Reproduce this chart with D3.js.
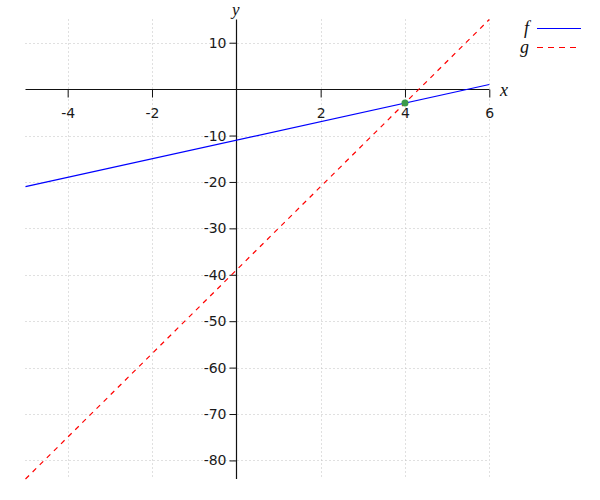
<!DOCTYPE html>
<html><head><meta charset="utf-8">
<script src="https://cdn.jsdelivr.net/npm/d3@7"></script>
<style>body{margin:0;background:#fff}</style>
</head><body>
<svg id="c" width="600" height="500"></svg>
<script>
const xDomain = [-5, 6];
const yDomain = [-84, 15];
const xTicks = [-4, -2, 2, 4, 6];
const yTicks = [10, -10, -20, -30, -40, -50, -60, -70, -80];
const fX = [-5, 6];
const fY = [-21, 1];
const gX = [-5, 6];
const gY = [-84, 15];
const pointX = [4];
const pointY = [-3];
const seriesNames = ["f", "g"];
const seriesColors = ["#0000ff", "#ff0000"];

const svg = d3.select("#c");
const x = d3.scaleLinear().domain(xDomain).range([25.5, 489.3]);
const y = d3.scaleLinear().domain(yDomain).range([479, 19.5]);

// grid
const grid = svg.append("g").attr("stroke", "#c0c0c0").attr("stroke-width", 1).attr("stroke-dasharray", "1,3");
grid.selectAll(".vg").data(xTicks).join("line")
  .attr("x1", d => Math.round(x(d)) + 0.5).attr("x2", d => Math.round(x(d)) + 0.5)
  .attr("y1", y(yDomain[1])).attr("y2", y(yDomain[0]));
grid.selectAll(".hg").data(yTicks).join("line")
  .attr("y1", d => Math.round(y(d)) + 0.5).attr("y2", d => Math.round(y(d)) + 0.5)
  .attr("x1", x(xDomain[0])).attr("x2", x(xDomain[1]));

const fmt = d => String(d);
// x axis
const xAxis = d3.axisBottom(x).tickValues(xTicks).tickSize(8).tickPadding(11).tickFormat(fmt);
const gx = svg.append("g").attr("transform", `translate(0,${Math.round(y(0)) + 0.5})`).call(xAxis);
const yAxis = d3.axisLeft(y).tickValues(yTicks).tickSize(7).tickPadding(3).tickFormat(fmt);
const gy = svg.append("g").attr("transform", `translate(${Math.round(x(0)) + 0.5},0)`).call(yAxis);
[gx, gy].forEach(g => {
  g.attr("font-size", null).attr("font-family", null);
  g.select(".domain").attr("stroke", "#111").attr("stroke-width", 1.2);
  g.selectAll(".tick line").attr("stroke", "#111");
  g.selectAll(".tick text").attr("fill", "#1a1a1a").attr("font-family", "DejaVu Sans").attr("font-size", 14);
});
gx.select(".domain").attr("d", `M${x(xDomain[0])},0H${x(xDomain[1])}`);
gy.select(".domain").attr("d", `M0,${y(yDomain[1])}V${y(yDomain[0])}`);

// axis labels
const serif = "Liberation Serif";
svg.append("text").attr("x", 500).attr("y", 96).text("x")
  .attr("font-family", serif).attr("font-style", "italic").attr("font-size", 18).attr("fill", "#111");
svg.append("text").attr("x", 232).attr("y", 15).text("y")
  .attr("font-family", serif).attr("font-style", "italic").attr("font-size", 17).attr("fill", "#111");

// lines
const line = d3.line().x(d => x(d[0])).y(d => y(d[1]));
svg.append("path").datum(d3.zip(gX, gY)).attr("d", line).attr("fill", "none")
  .attr("stroke", seriesColors[1]).attr("stroke-width", 1.2).attr("stroke-dasharray", "5,5");
svg.append("path").datum(d3.zip(fX, fY)).attr("d", line).attr("fill", "none")
  .attr("stroke", seriesColors[0]).attr("stroke-width", 1.2);

// point
svg.selectAll(".pt").data(d3.zip(pointX, pointY)).join("circle")
  .attr("cx", d => x(d[0])).attr("cy", d => y(d[1])).attr("r", 3.5).attr("fill", "#3a9a4a");

// legend
const leg = svg.append("g");
seriesNames.forEach((n, i) => {
  const ly = 28 + i * 19;
  leg.append("text").attr("x", 529).attr("y", ly + 6).attr("text-anchor", "end").text(n)
    .attr("font-family", serif).attr("font-style", "italic").attr("font-size", 18).attr("fill", "#111");
  leg.append("line").attr("x1", 537).attr("x2", 581).attr("y1", ly + 0.5).attr("y2", ly + 0.5)
    .attr("stroke", seriesColors[i]).attr("stroke-width", 1.2)
    .attr("stroke-dasharray", i === 1 ? "6,5" : null);
});
</script>
</body></html>
